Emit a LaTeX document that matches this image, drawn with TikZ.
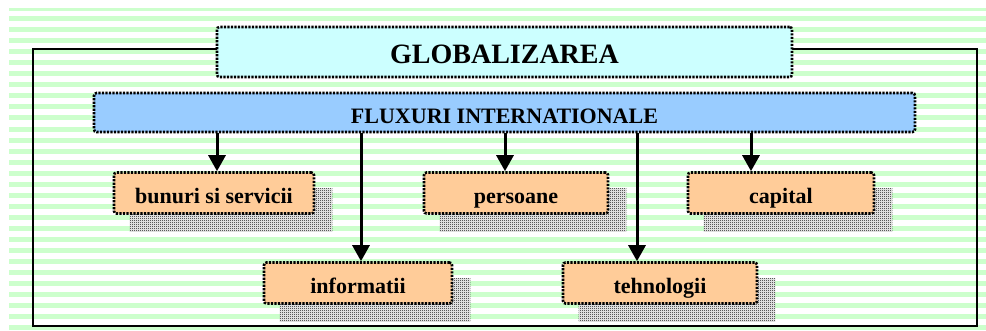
\documentclass[tikz,border=0pt]{standalone}
\usepackage{fontspec}
\setmainfont{Liberation Serif}
\usetikzlibrary{patterns,arrows.meta}
\definecolor{cyanbox}{HTML}{CCFFFF}
\definecolor{bluebox}{HTML}{99CCFF}
\definecolor{orangebox}{HTML}{FFCC99}
\definecolor{stripegreen}{HTML}{CCFFCC}
\definecolor{shadowgray}{HTML}{000000}
\pgfdeclarepatternformonly{finecheck}{\pgfpointorigin}{\pgfqpoint{2pt}{2pt}}{\pgfqpoint{2pt}{2pt}}{%
  \pgfpathrectangle{\pgfpointorigin}{\pgfqpoint{1pt}{1pt}}%
  \pgfpathrectangle{\pgfqpoint{1pt}{1pt}}{\pgfqpoint{1pt}{1pt}}%
  \pgfusepath{fill}}
\pgfdeclarelayer{bg}
\pgfdeclarelayer{shadowlayer}
\pgfsetlayers{bg,shadowlayer,main}
\begin{document}
\begin{tikzpicture}[x=1pt,y=-1pt,
  dotbox/.style={draw=black, line width=2.6pt, dash pattern=on 2.2pt off 1.3pt,
    rounded corners=2.5pt, inner sep=0pt},
  smallbox/.style={dotbox, fill=orangebox, minimum height=41pt,
    text height=23pt, text depth=3pt,
    font=\bfseries\fontsize{22}{25}\selectfont},
  stripe/.style={fill=stripegreen},
  boxshadow/.style={fill=white, postaction={pattern=finecheck, pattern color=shadowgray}},
  arr/.style={line width=3pt, -{Triangle[width=17pt,length=16pt]}},
  frameline/.style={line width=2.6pt}
]
\useasboundingbox (0,0) rectangle (986,330);

% background stripes
\begin{pgfonlayer}{bg}
  \fill[stripe] (9,8) rectangle (986,10.5);
  \foreach \k in {0,...,28} {
    \fill[stripe] (9,{16+11.05*\k}) rectangle (986,{21+11.05*\k});
  }
\end{pgfonlayer}

% outer frame
\coordinate (frA) at (33,49);
\coordinate (frB) at (977,326);
\draw[frameline] (frA) rectangle (frB);

% main boxes
\node[dotbox, fill=cyanbox, minimum width=575pt, minimum height=50pt,
  text height=25pt, text depth=3pt,
  font=\bfseries\fontsize{28}{31}\selectfont] (glob) at (504.5,52) {GLOBALIZAREA};
\node[dotbox, fill=bluebox, minimum width=821pt, minimum height=39pt,
  text height=24.5pt, text depth=3pt,
  font=\bfseries\fontsize{22}{25}\selectfont] (flux) at (504.5,112.5) {FLUXURI INTERNATIONALE};

\node[smallbox, minimum width=200pt] (bunuri) at (214,193) {bunuri si servicii};
\node[smallbox, minimum width=184pt] (persoane) at (516,193) {persoane};
\node[smallbox, minimum width=186pt] (capital) at (781,193) {capital};
\node[smallbox, minimum width=188pt] (informatii) at (358,283) {informatii};
\node[smallbox, minimum width=194pt] (tehnologii) at (660,283) {tehnologii};

% shadows
\begin{pgfonlayer}{shadowlayer}
  \foreach \b in {bunuri,persoane,capital,informatii,tehnologii} {
    \fill[boxshadow] ([shift={(17,17)}]\b.north west) rectangle ([shift={(17,17)}]\b.south east);
  }
\end{pgfonlayer}

% arrows
\coordinate (xa) at (217,0);
\coordinate (xb) at (505,0);
\coordinate (xc) at (751,0);
\coordinate (xd) at (361,0);
\coordinate (xe) at (637,0);
\draw[arr] (xa |- flux.south) -- (xa |- bunuri.north);
\draw[arr] (xb |- flux.south) -- (xb |- persoane.north);
\draw[arr] (xc |- flux.south) -- (xc |- capital.north);
\draw[arr] (xd |- flux.south) -- (xd |- informatii.north);
\draw[arr] (xe |- flux.south) -- (xe |- tehnologii.north);
\end{tikzpicture}
\end{document}
